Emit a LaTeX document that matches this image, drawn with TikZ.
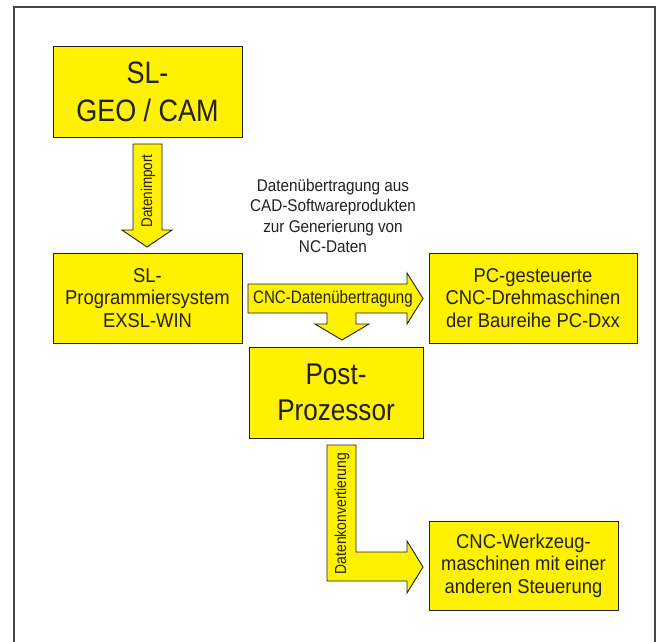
\documentclass[tikz,border=0pt]{standalone}
\usepackage{fontspec}
\setmainfont[FakeStretch=0.87]{Liberation Sans}
\newfontfamily\boxfont[FakeStretch=0.92]{Liberation Sans}
\newfontfamily\descfont[FakeStretch=0.90]{Liberation Sans}
\newfontfamily\narrowfont[FakeStretch=0.84]{Liberation Sans}
\definecolor{boxyellow}{RGB}{255,242,0}
\definecolor{ink}{RGB}{35,31,32}
\definecolor{framegray}{RGB}{70,70,70}
\begin{document}
\begin{tikzpicture}[x=1pt,y=-1pt,
  box/.style={draw=ink,line width=0.9pt,fill=boxyellow,text=ink,align=center,inner sep=0pt},
  bigtext/.style={font=\fontsize{31}{38}\selectfont},
  posttext/.style={font=\fontsize{30}{36}\selectfont},
  smalltext/.style={font=\boxfont\fontsize{20}{22.5}\selectfont},
  arrowshape/.style={draw=ink,line width=0.9pt,fill=boxyellow,line join=miter},
  desc/.style={text=ink,align=center,inner sep=0pt,font=\descfont\fontsize{17}{20.4}\selectfont},
  arrowlabel/.style={text=ink,inner sep=0pt,font=\fontsize{15.5}{18}\selectfont}
]
\useasboundingbox (0,0) rectangle (657,641);
% frame
\begin{scope}
\clip (0,0) rectangle (657,641);
\draw[framegray,line width=1.8pt] (14,660) -- (14,7) -- (655,7) -- (655,660);
\end{scope}

% boxes
\node[box,bigtext,minimum width=189pt,minimum height=91pt] (geo) at (147.5,91.5) {SL-\\GEO / CAM};
\node[box,smalltext,minimum width=189pt,minimum height=90pt] (prog) at (147.5,298) {SL-\\Programmiersystem\\EXSL-WIN};
\node[box,smalltext,minimum width=208pt,minimum height=90pt] (pc) at (533,298) {PC-gesteuerte\\CNC-Drehmaschinen\\der Baureihe PC-Dxx};
\node[box,posttext,minimum width=174pt,minimum height=91pt] (post) at (336,392.5) {Post-\\Prozessor};
\node[box,smalltext,minimum width=189pt,minimum height=89pt] (werk) at (523.5,565.5) {CNC-Werkzeug-\\maschinen mit einer\\anderen Steuerung};

% arrow 1: Datenimport
\draw[arrowshape] (133,144) -- (162,144) -- (162,230) -- (172,230) -- (147,247) -- (122,230) -- (133,230) -- cycle;
\node[arrowlabel,rotate=90] (imp) at (148,191) {Datenimport};

% arrow 2: CNC-Datenuebertragung with branch down
\draw[arrowshape] (248,284) -- (407,284) -- (407,273) -- (423,298.5) -- (407,324) -- (407,313) -- (356,313) -- (356,324) -- (369,324) -- (342,340) -- (315,324) -- (327,324) -- (327,313) -- (248,313) -- cycle;
\node[text=ink,inner sep=0pt,font=\narrowfont\fontsize{18}{20}\selectfont] (cncd) at (333,299) {CNC-Datenübertragung};

% description
\node[desc] (desc) at (333,216) {Datenübertragung aus\\CAD-Softwareprodukten\\zur Generierung von\\NC-Daten};

% arrow 3: Datenkonvertierung
\draw[arrowshape] (327,445) -- (356,445) -- (356,552) -- (407,552) -- (407,541) -- (423,567) -- (407,593) -- (407,581) -- (327,581) -- cycle;
\node[arrowlabel,rotate=90,font=\fontsize{16}{18}\selectfont] (konv) at (342,513.5) {Datenkonvertierung};
\end{tikzpicture}
\end{document}
